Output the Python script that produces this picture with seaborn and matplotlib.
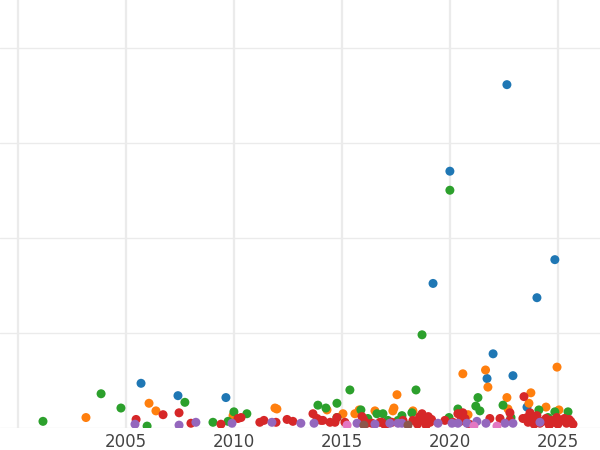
import pandas as pd
import matplotlib
matplotlib.use("Agg")
import matplotlib.pyplot as plt
import seaborn as sns

# values (x = year, y = value)
blue_x = [2022.64, 2020.0, 2024.86, 2019.22, 2024.03, 2022.0, 2021.72, 2022.92,
          2005.70, 2007.41, 2009.63, 2023.57]
blue_y = [3.61, 2.70, 1.77, 1.52, 1.37, 0.78, 0.52, 0.55, 0.47, 0.34, 0.32, 0.22]

orange_x = [2003.15, 2006.07, 2006.39, 2009.96, 2011.90, 2011.99, 2014.31, 2015.05,
            2015.60, 2015.80, 2016.53, 2017.36, 2017.55, 2017.41, 2018.29, 2020.60,
            2020.84, 2021.65, 2021.76, 2022.64, 2022.69, 2023.75, 2023.66, 2024.45,
            2024.96, 2025.05]
orange_y = [0.11, 0.26, 0.18, 0.13, 0.21, 0.20, 0.19, 0.15,
            0.15, 0.19, 0.18, 0.18, 0.35, 0.21, 0.18, 0.57,
            0.14, 0.61, 0.43, 0.32, 0.20, 0.37, 0.26, 0.22,
            0.64, 0.19]

green_x = [2001.16, 2003.85, 2004.77, 2005.98, 2007.73, 2009.03, 2009.73, 2010.00,
           2010.60, 2013.89, 2014.26, 2014.77, 2014.77, 2015.37, 2015.88, 2016.20,
           2016.62, 2016.90, 2017.13, 2017.60, 2017.78, 2018.24, 2018.43, 2018.71,
           2019.96, 2020.00, 2020.37, 2021.30, 2021.20, 2021.39, 2022.46, 2022.83,
           2023.85, 2024.12, 2024.54, 2024.86, 2025.47]
green_y = [0.07, 0.36, 0.21, 0.02, 0.27, 0.06, 0.07, 0.17,
           0.15, 0.24, 0.21, 0.26, 0.11, 0.40, 0.19, 0.10,
           0.15, 0.15, 0.08, 0.08, 0.13, 0.16, 0.40, 0.98,
           0.11, 2.50, 0.20, 0.32, 0.23, 0.18, 0.24, 0.11,
           0.11, 0.19, 0.11, 0.17, 0.17]

red_x = [2005.47, 2006.72, 2007.46, 2008.01, 2009.40, 2010.19, 2010.33, 2011.20,
         2011.39, 2011.95, 2012.46, 2012.73, 2013.66, 2013.85, 2014.03, 2014.12,
         2014.45, 2014.68, 2014.77, 2015.14, 2015.93, 2016.00, 2016.16, 2016.39,
         2016.76, 2016.85, 2017.00, 2017.32, 2017.83, 2018.29, 2018.50, 2018.71,
         2018.75, 2018.90, 2019.00, 2019.08, 2019.77, 2020.14, 2020.56, 2020.60,
         2020.70, 2020.90, 2021.85, 2022.32, 2022.78, 2022.78, 2023.38, 2023.43,
         2023.57, 2023.71, 2023.90, 2024.03, 2024.17, 2024.30, 2024.60, 2024.80,
         2025.00, 2025.20, 2025.40, 2025.60, 2025.70,
         2018.60, 2018.82, 2019.15, 2020.37, 2020.48, 2023.62, 2023.80, 2024.45,
         2024.70, 2024.95, 2025.30, 2025.52]
red_y = [0.09, 0.14, 0.16, 0.05, 0.04, 0.10, 0.11, 0.06,
         0.08, 0.06, 0.09, 0.07, 0.15, 0.10, 0.08, 0.08,
         0.06, 0.06, 0.11, 0.06, 0.12, 0.09, 0.05, 0.05,
         0.06, 0.06, 0.03, 0.06, 0.08, 0.08, 0.04, 0.15,
         0.10, 0.03, 0.12, 0.06, 0.08, 0.06, 0.10, 0.16,
         0.10, 0.04, 0.10, 0.10, 0.16, 0.08, 0.10, 0.33,
         0.11, 0.16, 0.04, 0.13, 0.05, 0.07, 0.03, 0.06,
         0.04, 0.08, 0.05, 0.07, 0.04,
         0.12, 0.07, 0.09, 0.15, 0.07, 0.06, 0.09, 0.10,
         0.08, 0.11, 0.10, 0.09]

purple_x = [2005.42, 2007.46, 2008.24, 2009.91, 2011.76, 2013.10, 2013.71, 2015.70,
            2016.53, 2017.22, 2017.60, 2017.78, 2019.45, 2020.10, 2020.37, 2020.79,
            2021.25, 2021.67, 2022.55, 2022.92, 2024.17]
purple_y = [0.04, 0.03, 0.06, 0.05, 0.06, 0.05, 0.05, 0.05,
            0.04, 0.05, 0.05, 0.05, 0.05, 0.05, 0.05, 0.05,
            0.07, 0.05, 0.05, 0.05, 0.06]

brown_x = [2016.02, 2018.06]
brown_y = [0.03, 0.03]

pink_x = [2015.24, 2021.11, 2022.18]
pink_y = [0.03, 0.02, 0.02]

groups = ["A", "B", "C", "D", "E", "F", "G"]
xs = [blue_x, orange_x, green_x, red_x, purple_x, brown_x, pink_x]
ys = [blue_y, orange_y, green_y, red_y, purple_y, brown_y, pink_y]

df = pd.concat(
    [pd.DataFrame({"year": x, "value": y, "group": g}) for g, x, y in zip(groups, xs, ys)],
    ignore_index=True,
)

sns.set_style("whitegrid")
fig = plt.figure(figsize=(6, 4.5), dpi=100)
ax = fig.add_axes([0, 22 / 450, 1, 428 / 450])

sns.scatterplot(data=df, x="year", y="value", hue="group", hue_order=groups,
                palette="tab10", s=42, linewidth=0, legend=False, ax=ax)

ax.set_xlim(1999.17, 2026.95)
ax.set_ylim(0, 4.5)
ax.set_xticks([2000, 2005, 2010, 2015, 2020, 2025])
ax.set_xticklabels(["", "2005", "2010", "2015", "2020", "2025"])
ax.set_yticks([0, 1, 2, 3, 4])
ax.set_yticklabels([])
ax.set_xlabel("")
ax.set_ylabel("")
ax.tick_params(axis="both", length=0, labelsize=12, labelcolor="#444444")
ax.grid(axis="x", color="#ebebeb", linewidth=1.6)
ax.grid(axis="y", color="#ebebeb", linewidth=1.0)
sns.despine(ax=ax, left=True, bottom=True)

fig.savefig("out.png", dpi=100)
